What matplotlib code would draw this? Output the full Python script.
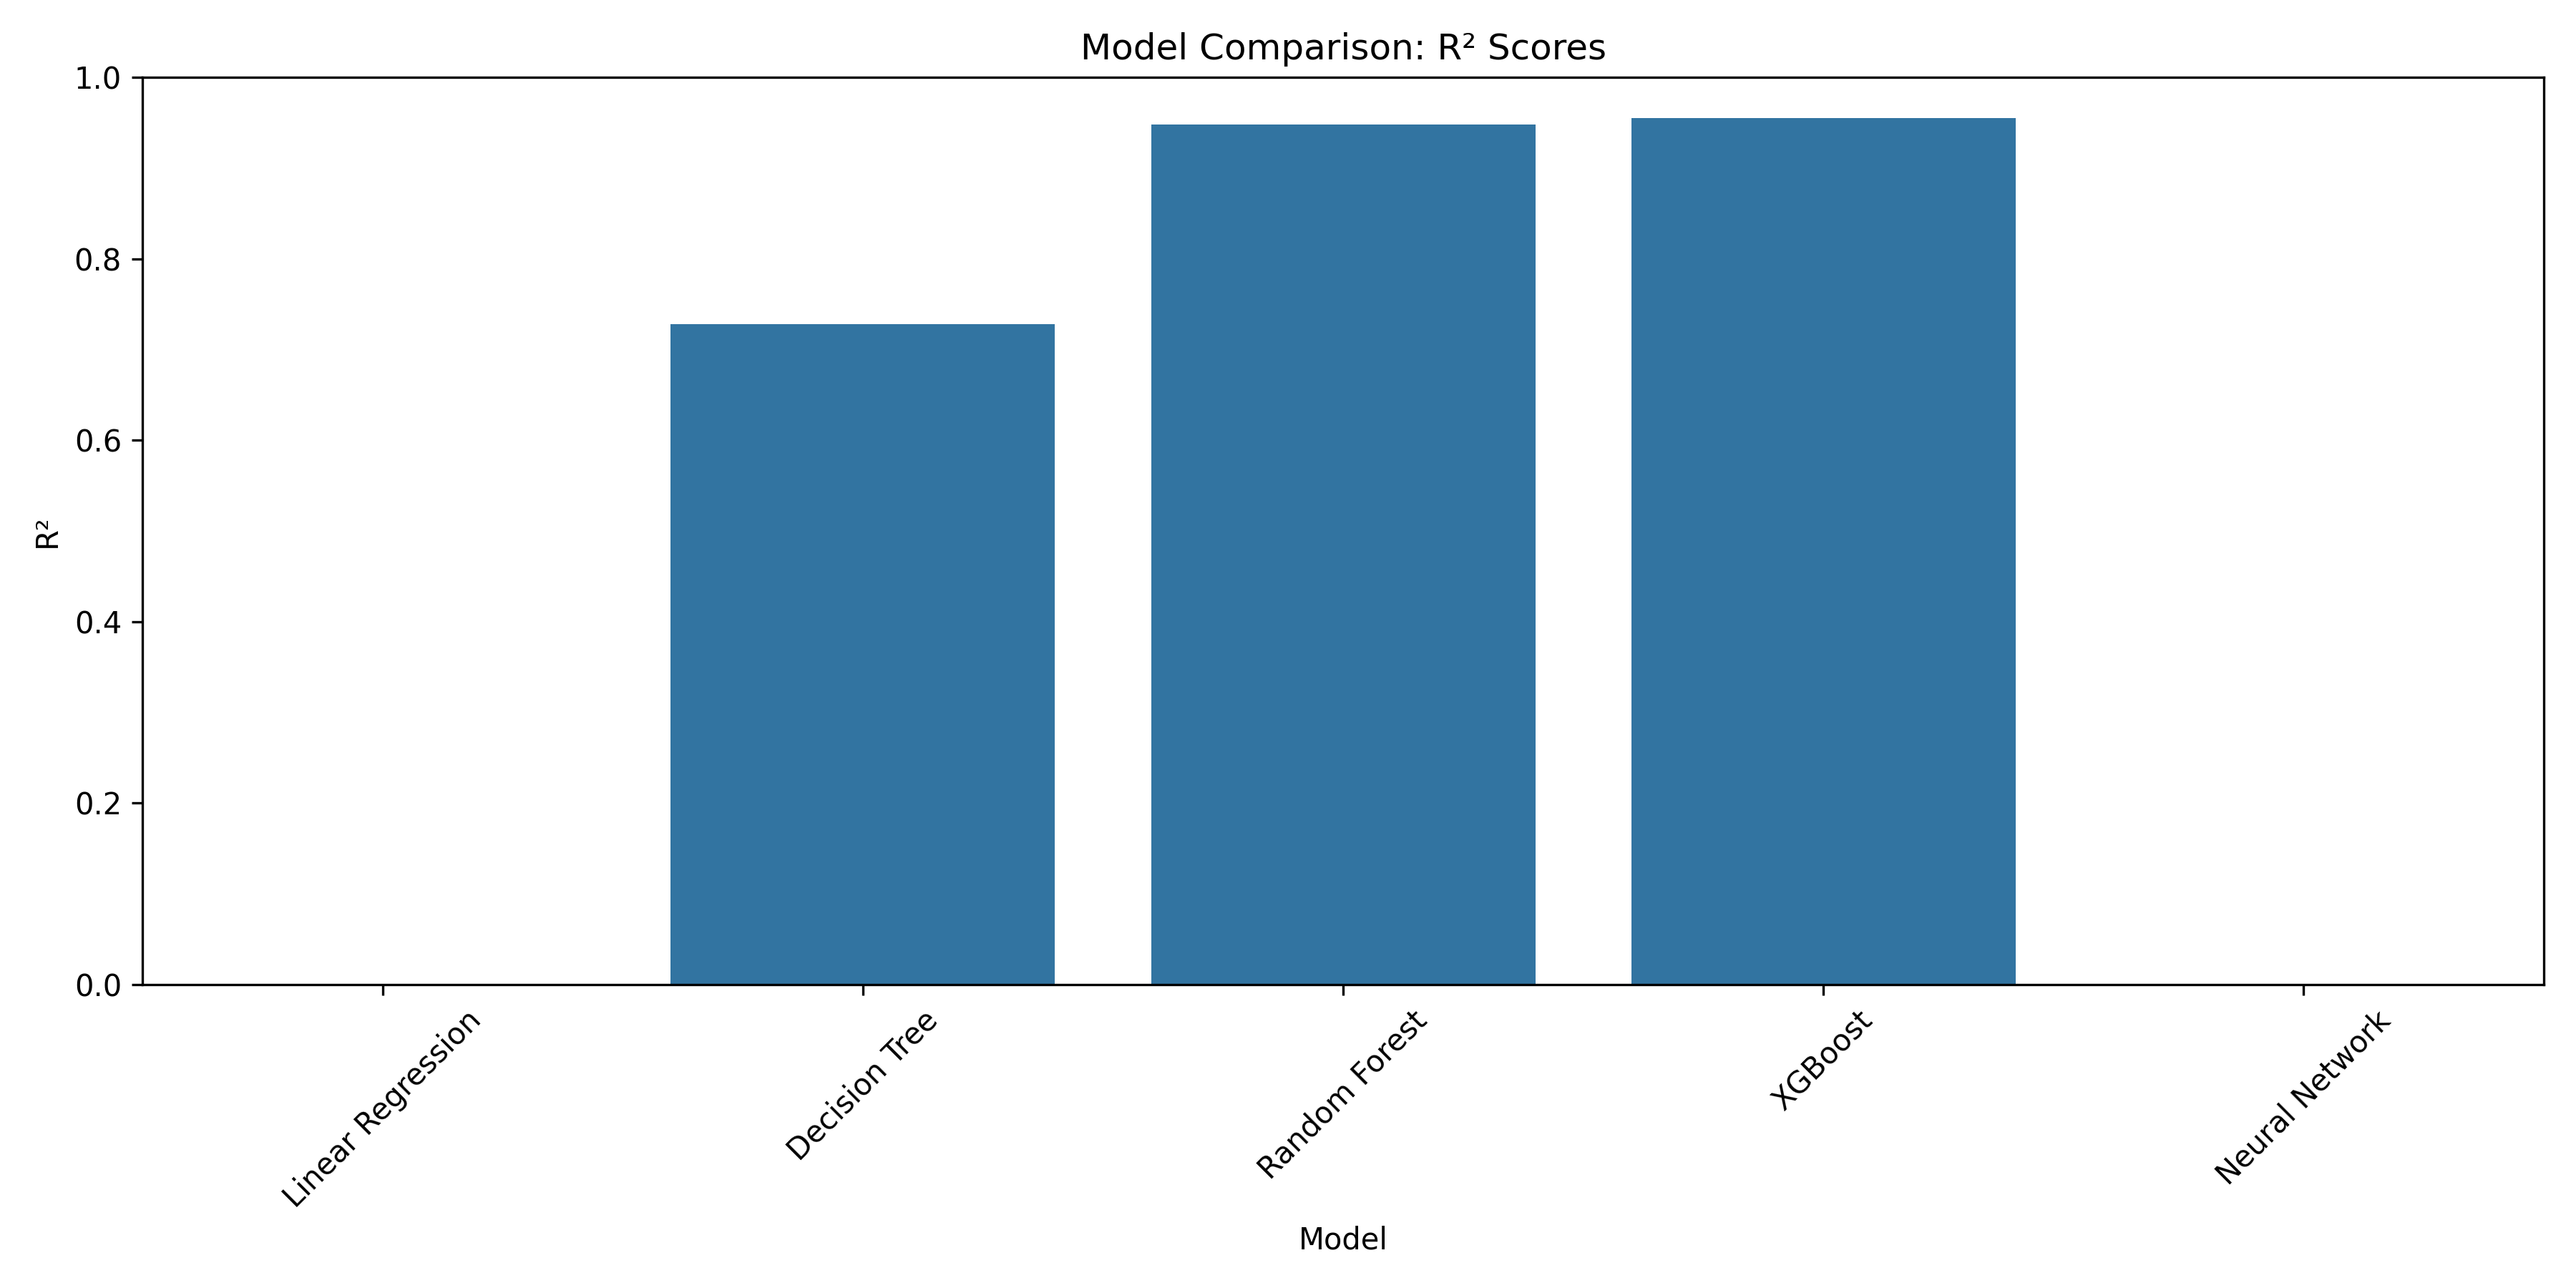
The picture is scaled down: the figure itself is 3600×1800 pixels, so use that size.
import matplotlib
matplotlib.use("Agg")
import matplotlib.pyplot as plt

models = ["Linear Regression", "Decision Tree", "Random Forest", "XGBoost", "Neural Network"]
r2 = [-0.35, 0.728, 0.948, 0.955, -0.20]

fig, ax = plt.subplots(figsize=(12, 6), dpi=300)
ax.bar(range(len(models)), r2, width=0.8, color="#3274a1")
ax.set_xticks(range(len(models)))
ax.set_xticklabels(models, rotation=45)
ax.set_xlim(-0.5, len(models) - 0.5)
ax.set_ylim(0, 1)
ax.set_title("Model Comparison: R² Scores")
ax.set_xlabel("Model")
ax.set_ylabel("R²")
fig.tight_layout()
fig.savefig("out.png")
